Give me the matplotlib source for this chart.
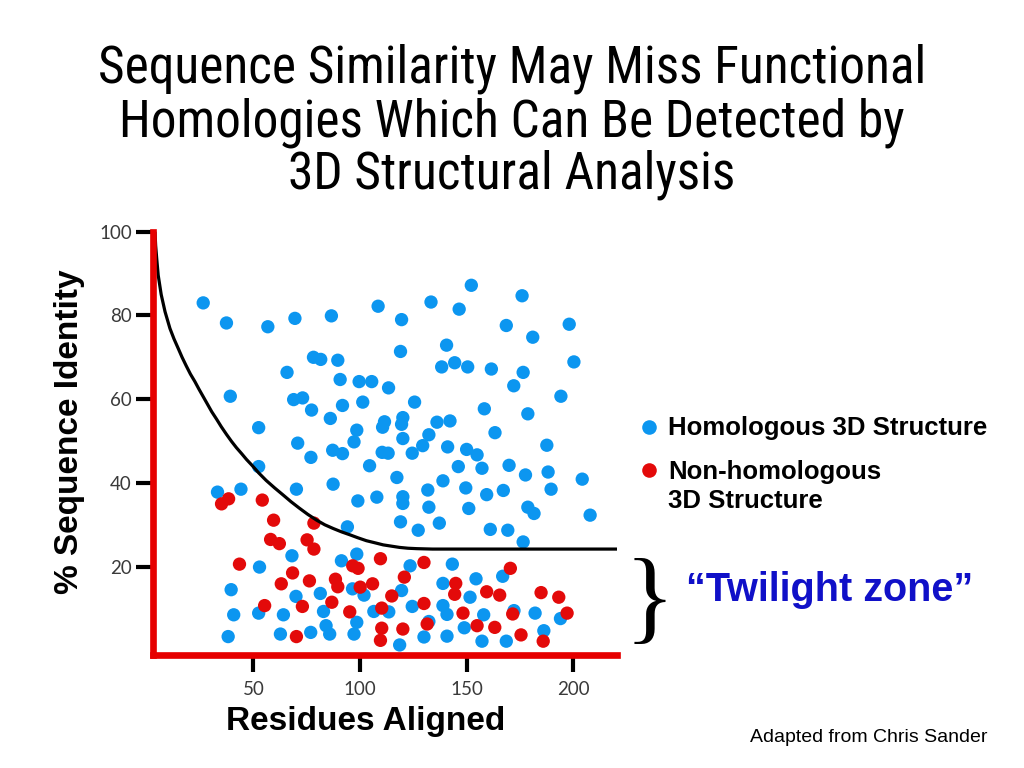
import numpy as np
import matplotlib.pyplot as plt
from matplotlib import font_manager

# points: (residues aligned, % sequence identity)
homologous = [
    (26.5, 83.0), (37.4, 78.2), (56.8, 77.3), (69.5, 79.3), (86.6, 79.9), (108.5, 82.2),
    (78.2, 70.0), (81.6, 69.5), (89.6, 69.3), (65.8, 66.4), (90.7, 64.7), (99.6, 64.2),
    (105.5, 64.2), (39.2, 60.7), (68.9, 59.9), (73.1, 60.3), (77.3, 57.4), (91.8, 58.5),
    (101.3, 59.3), (86.1, 55.4), (52.5, 53.2), (98.5, 52.6), (110.6, 53.3), (111.5, 54.6),
    (97.2, 49.8), (70.8, 49.5), (87.2, 47.8), (91.8, 47.0), (77.0, 46.1), (110.4, 47.3),
    (113.2, 47.1), (52.5, 43.9), (104.5, 44.1),
    (133.3, 83.2), (152.2, 87.2), (176.0, 84.7), (146.5, 81.5), (119.5, 79.0), (168.6, 77.6),
    (198.1, 77.9), (181.0, 74.8), (119.0, 71.4), (140.6, 72.9), (138.3, 67.7), (144.4, 68.7),
    (150.5, 67.7), (161.6, 67.2), (176.5, 66.4), (200.3, 68.9), (172.1, 63.2), (113.4, 62.7),
    (194.2, 60.7), (125.6, 59.3), (158.3, 57.7), (178.7, 56.5), (120.1, 55.6), (119.5, 54.0),
    (136.1, 54.5), (142.2, 54.8), (163.3, 52.0), (120.1, 50.6), (132.3, 51.5), (129.4, 48.9),
    (141.1, 48.6), (150.0, 48.0), (154.9, 46.7), (187.6, 49.0), (124.5, 47.1), (146.1, 43.9),
    (157.2, 43.5), (169.9, 44.2), (177.6, 41.9), (188.2, 42.6),
    (117.3, 41.3), (204.2, 40.9), (107.9, 36.6), (120.1, 36.7), (120.1, 35.1), (131.8, 38.3),
    (138.9, 40.5), (149.6, 38.8), (159.4, 37.2), (167.2, 38.2), (189.6, 38.5), (132.3, 34.2),
    (151.0, 33.9), (178.7, 34.2), (181.6, 32.7), (207.9, 32.3), (119.0, 30.7), (127.3, 28.7),
    (137.2, 30.4), (161.1, 28.9), (169.3, 28.7), (176.5, 25.9),
    (33.2, 37.8), (44.2, 38.5), (70.2, 38.5), (87.4, 39.7), (99.0, 35.7), (94.1, 29.5),
    (68.1, 22.6), (52.9, 19.9), (91.3, 21.4), (98.5, 23.0), (39.6, 14.5), (81.4, 13.6),
    (70.0, 12.9), (96.5, 14.7), (101.9, 13.2), (52.5, 8.9), (64.1, 8.5), (82.9, 9.3),
    (40.8, 8.5), (84.1, 5.9), (98.5, 6.7), (62.7, 3.9), (76.9, 4.3), (85.8, 3.9),
    (97.2, 3.9), (38.2, 3.3),
    (123.5, 20.2), (143.3, 20.6), (154.4, 17.1), (166.9, 17.7), (138.9, 16.0), (119.5, 14.3),
    (151.6, 12.7), (138.9, 10.7), (140.8, 8.6), (124.5, 10.5), (113.5, 9.2), (106.5, 9.3),
    (158.0, 8.5), (172.2, 9.5), (182.1, 8.9), (194.0, 7.6), (132.3, 6.9), (148.9, 5.4),
    (186.2, 4.7), (130.0, 3.2), (140.8, 3.4), (157.2, 2.2), (168.6, 2.2), (118.6, 1.3),
]

non_homologous = [
    (38.4, 36.2), (35.1, 35.0), (54.2, 35.9), (59.5, 31.1), (78.4, 30.4), (58.1, 26.5),
    (62.2, 25.5), (75.2, 26.4), (78.4, 24.2), (43.5, 20.6), (68.4, 18.5), (63.1, 15.9),
    (76.3, 16.6), (88.5, 17.0), (89.6, 15.2), (96.6, 20.2), (99.1, 19.6), (100.1, 15.1),
    (55.3, 10.7), (73.0, 10.5), (86.8, 11.5), (95.2, 9.2), (70.2, 3.3),
    (109.6, 21.9), (130.0, 21.0), (170.5, 19.6), (120.8, 17.5), (105.9, 15.9), (144.9, 16.0),
    (114.9, 13.0), (144.4, 13.4), (159.4, 14.0), (165.5, 13.2), (184.9, 13.8), (193.2, 12.7),
    (110.2, 10.1), (130.0, 11.2), (148.3, 8.9), (171.6, 8.7), (197.1, 8.9), (110.2, 5.3),
    (120.1, 5.1), (131.5, 6.3), (154.9, 5.9), (163.2, 5.5), (175.5, 3.7), (185.9, 2.2),
    (109.6, 2.4),
]

# threshold curve
curve_x = [3.9, 4.2, 4.7, 5.4, 6.8, 8.6, 10.9, 12.8, 14.8, 16.6, 18.5, 20.5, 22.6, 24.5,
           26.5, 28.5, 30.5, 32.8, 35.0, 37.4, 39.8, 42.1, 44.5, 46.8, 49.2, 52.5, 56.0,
           60.0, 64.0, 67.7, 71.5, 75.5, 79.7, 83.5, 87.5, 91.4, 95.3, 99.0, 103.0, 107.0,
           110.9, 114.7, 118.5, 122.5, 126.6, 130.2, 134.0, 138.0, 142.2, 220.5]
curve_y = [100.0, 96.7, 93.6, 89.6, 85.0, 80.9, 76.9, 74.4, 72.1, 70.0, 68.0, 66.0, 64.2,
           62.4, 60.6, 58.8, 57.0, 55.2, 53.4, 51.6, 49.9, 48.4, 47.0, 45.6, 44.3, 42.4,
           40.6, 38.8, 37.1, 35.5, 34.0, 32.5, 31.1, 30.0, 29.1, 28.3, 27.6, 26.9, 26.2,
           25.7, 25.2, 24.9, 24.6, 24.4, 24.3, 24.25, 24.2, 24.2, 24.2, 24.2]

x_ticks = [50, 100, 150, 200]
y_ticks = [20, 40, 60, 80, 100]

title_lines = ['Sequence Similarity May Miss Functional',
               'Homologies Which Can Be Detected by',
               '3D Structural Analysis']
legend_labels = ['Homologous 3D Structure', 'Non-homologous', '3D Structure']

BLUE = '#0C96F0'
RED = '#E30A0A'
AXIS_RED = '#E60000'

names = {f.name for f in font_manager.fontManager.ttflist}
title_font = 'Liberation Sans'
for cand in ['Liberation Sans Narrow', 'Roboto Condensed', 'Open Sans Condensed',
             'Noto Sans Condensed', 'DejaVu Sans Condensed']:
    if cand in names:
        title_font = cand
        break

plt.rcParams['font.family'] = ['Liberation Sans', 'DejaVu Sans']

fig = plt.figure(figsize=(10.24, 7.68), dpi=100)
W, H = 1024, 768


def fx(px):
    return px / W


def fy(py):
    return 1 - py / H


ax = fig.add_axes([fx(153.3), fy(655), fx(617) - fx(153.3), fy(231.7) - fy(655)])

hx, hy = zip(*homologous)
rx, ry = zip(*non_homologous)
ax.scatter(hx, hy, s=92, color=BLUE, edgecolors='none', zorder=3, clip_on=False)
ax.scatter(rx, ry, s=92, color=RED, edgecolors='none', zorder=3, clip_on=False)
ax.plot(curve_x, curve_y, color='black', linewidth=2.3, zorder=4, clip_on=False,
        solid_capstyle='butt', solid_joinstyle='round')

ax.set_xlim(3.1, 220.5)
ax.set_ylim(-1.1, 100)
ax.set_xticks(x_ticks)
ax.set_yticks(y_ticks)
ax.tick_params(axis='both', direction='out', length=12.5, width=3, color='black',
               labelsize=13.5, labelcolor='#3a3a3a')
ax.tick_params(axis='x', pad=6)
ax.tick_params(axis='y', pad=3)
for lab in ax.get_xticklabels() + ax.get_yticklabels():
    lab.set_family(['Lato', 'Liberation Sans'])

for side in ['top', 'right']:
    ax.spines[side].set_visible(False)
for side in ['left', 'bottom']:
    ax.spines[side].set_color(AXIS_RED)
    ax.spines[side].set_linewidth(4.8)
    ax.spines[side].set_capstyle('projecting')
    ax.spines[side].set_zorder(5)

# title, sized so the first line spans the same width as in the reference
titles = []
for line, base in zip(title_lines, [82, 136, 189]):
    titles.append(fig.text(0.5, fy(base), line, ha='center', va='baseline',
                           fontsize=33, family=title_font))
renderer = fig.canvas.get_renderer()
w0 = titles[0].get_window_extent(renderer).width
scale = 830.0 / w0
for t in titles:
    t.set_fontsize(33 * scale)

# axis labels
fig.text(fx(366), fy(730), 'Residues Aligned', ha='center', va='baseline',
         fontsize=24, fontweight='bold')
fig.text(fx(70), fy(432), '% Sequence Identity', ha='center', va='center',
         rotation=90, fontsize=24, fontweight='bold')

# legend
fig.lines.append(plt.Line2D([fx(648.5)], [fy(427)], marker='o', markersize=10.5,
                            color=BLUE, markeredgewidth=0, transform=fig.transFigure))
fig.lines.append(plt.Line2D([fx(648.5)], [fy(470)], marker='o', markersize=10.5,
                            color=RED, markeredgewidth=0, transform=fig.transFigure))
fig.text(fx(668), fy(435), legend_labels[0], ha='left', va='baseline',
         fontsize=18.5, fontweight='bold')
fig.text(fx(668), fy(479), legend_labels[1], ha='left', va='baseline',
         fontsize=18.5, fontweight='bold')
fig.text(fx(668), fy(508), legend_labels[2], ha='left', va='baseline',
         fontsize=18.5, fontweight='bold')

# twilight zone
fig.text(fx(650), fy(630), '}', ha='center', va='baseline', fontsize=75,
         family=['Liberation Serif', 'DejaVu Serif'])
fig.text(fx(686), fy(601), '\u201cTwilight zone\u201d', ha='left', va='baseline',
         fontsize=28.5, fontweight='bold', color='#1010C8')

fig.text(fx(987), fy(742), 'Adapted from Chris Sander', ha='right', va='baseline',
         fontsize=14)

fig.savefig('out.png', dpi=100)
